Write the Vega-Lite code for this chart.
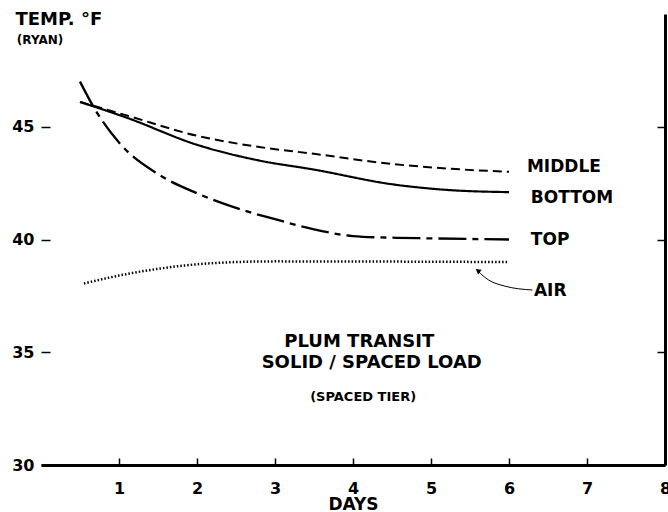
{
  "$schema": "https://vega.github.io/schema/vega-lite/v6.json",
  "width": 624,
  "height": 451,
  "autosize": "none",
  "padding": {"left": 41, "top": 14, "right": 3, "bottom": 47},
  "background": "white",
  "config": {
    "view": {"stroke": null},
    "font": "DejaVu Sans",
    "axis": {"grid": false, "domainColor": "black", "tickColor": "black", "labelColor": "black", "titleColor": "black", "labelFont": "DejaVu Sans", "titleFont": "DejaVu Sans", "labelFontWeight": "bold", "titleFontWeight": "bold"}
  },
  "datasets": {
    "series": [
      {"series": "MIDDLE", "day": 0.5, "temp": 46.1},
      {"series": "MIDDLE", "day": 1.1, "temp": 45.5},
      {"series": "MIDDLE", "day": 2.0, "temp": 44.6},
      {"series": "MIDDLE", "day": 2.8, "temp": 44.1},
      {"series": "MIDDLE", "day": 3.5, "temp": 43.8},
      {"series": "MIDDLE", "day": 4.5, "temp": 43.35},
      {"series": "MIDDLE", "day": 5.2, "temp": 43.15},
      {"series": "MIDDLE", "day": 6.0, "temp": 43.0},
      {"series": "BOTTOM", "day": 0.5, "temp": 46.1},
      {"series": "BOTTOM", "day": 1.1, "temp": 45.4},
      {"series": "BOTTOM", "day": 2.0, "temp": 44.2},
      {"series": "BOTTOM", "day": 2.8, "temp": 43.5},
      {"series": "BOTTOM", "day": 3.5, "temp": 43.1},
      {"series": "BOTTOM", "day": 4.5, "temp": 42.45},
      {"series": "BOTTOM", "day": 5.2, "temp": 42.2},
      {"series": "BOTTOM", "day": 6.0, "temp": 42.1},
      {"series": "TOP", "day": 0.5, "temp": 47.0},
      {"series": "TOP", "day": 0.67, "temp": 45.9},
      {"series": "TOP", "day": 1.0, "temp": 44.3},
      {"series": "TOP", "day": 1.5, "temp": 42.9},
      {"series": "TOP", "day": 2.0, "temp": 42.05},
      {"series": "TOP", "day": 2.5, "temp": 41.4},
      {"series": "TOP", "day": 3.0, "temp": 40.9},
      {"series": "TOP", "day": 3.5, "temp": 40.45},
      {"series": "TOP", "day": 4.0, "temp": 40.15},
      {"series": "TOP", "day": 4.5, "temp": 40.08},
      {"series": "TOP", "day": 5.0, "temp": 40.05},
      {"series": "TOP", "day": 6.0, "temp": 40.0},
      {"series": "AIR", "day": 0.55, "temp": 38.05},
      {"series": "AIR", "day": 1.0, "temp": 38.4},
      {"series": "AIR", "day": 1.5, "temp": 38.7},
      {"series": "AIR", "day": 2.0, "temp": 38.9},
      {"series": "AIR", "day": 2.5, "temp": 39.0},
      {"series": "AIR", "day": 3.0, "temp": 39.03},
      {"series": "AIR", "day": 6.0, "temp": 39.0}
    ],
    "seriesLabels": [
      {"label": "MIDDLE", "day": 6.23, "temp": 43.21},
      {"label": "BOTTOM", "day": 6.28, "temp": 41.84},
      {"label": "TOP", "day": 6.28, "temp": 40.0},
      {"label": "AIR", "day": 6.32, "temp": 37.71}
    ],
    "leader": [
      {"day": 6.3, "temp": 37.76},
      {"day": 5.95, "temp": 37.93},
      {"day": 5.74, "temp": 38.2},
      {"day": 5.6, "temp": 38.6}
    ],
    "arrow": [{"day": 5.6, "temp": 38.62}],
    "bigNotes": [
      {"label": "PLUM TRANSIT", "day": 4.08, "temp": 35.47},
      {"label": "SOLID / SPACED LOAD", "day": 4.24, "temp": 34.53}
    ],
    "smallNotes": [
      {"label": "(SPACED TIER)", "day": 4.13, "temp": 33.02}
    ],
    "unit": [
      {"label": "(RYAN)", "day": -0.31, "temp": 48.83}
    ]
  },
  "layer": [
    {
      "data": {"name": "series"},
      "mark": {"type": "line", "interpolate": "monotone", "color": "black", "clip": false},
      "encoding": {
        "x": {"field": "day", "type": "quantitative", "scale": {"domain": [0, 8], "nice": false, "zero": false},
          "axis": {"values": [1, 2, 3, 4, 5, 6, 7, 8], "format": "d", "title": "DAYS", "titleFontSize": 17, "titlePadding": 0, "labelFontSize": 16, "labelPadding": 22, "tickSize": -7, "tickWidth": 1.5, "domainWidth": 3, "labelFlush": false}},
        "y": {"field": "temp", "type": "quantitative", "scale": {"domain": [30, 50], "nice": false, "zero": false},
          "axis": {"values": [30, 35, 40, 45], "format": "d", "domain": false, "title": "TEMP. °F", "titleAngle": 0, "titleAlign": "left", "titleBaseline": "middle", "titleX": -26, "titleY": 5, "titleFontSize": 18, "labelFontSize": 16, "labelPadding": 16, "tickSize": -9, "tickWidth": 1.5}},
        "detail": {"field": "series"},
        "strokeDash": {"field": "series", "type": "nominal", "legend": null,
          "scale": {"domain": ["MIDDLE", "BOTTOM", "TOP", "AIR"], "range": [[9, 5], [1, 0], [28, 6, 6, 6], [1.5, 2]]}},
        "strokeWidth": {"field": "series", "type": "nominal", "legend": null,
          "scale": {"domain": ["MIDDLE", "BOTTOM", "TOP", "AIR"], "range": [2, 2.5, 2, 1.5]}}
      }
    },
    {
      "mark": {"type": "rule", "color": "black", "strokeWidth": 3, "clip": false},
      "encoding": {
        "x": {"datum": 0, "type": "quantitative"},
        "y": {"datum": 30, "type": "quantitative", "axis": null},
        "y2": {"datum": 48.28}
      }
    },
    {
      "mark": {"type": "rule", "color": "black", "strokeWidth": 3, "clip": false},
      "encoding": {
        "x": {"datum": 1.12, "type": "quantitative"},
        "x2": {"datum": 8},
        "y": {"datum": 50, "type": "quantitative",
          "axis": {"orient": "right", "values": [35, 40, 45], "labels": false, "title": null, "tickSize": -8, "tickWidth": 1.5, "domainWidth": 3}}
      }
    },
    {
      "data": {"name": "leader"},
      "mark": {"type": "line", "interpolate": "monotone", "color": "black", "strokeWidth": 1},
      "encoding": {
        "x": {"field": "day", "type": "quantitative"},
        "y": {"field": "temp", "type": "quantitative", "axis": null},
        "order": {"field": "day"}
      }
    },
    {
      "data": {"name": "arrow"},
      "mark": {"type": "point", "shape": "triangle-up", "filled": true, "color": "black", "size": 35, "angle": 307, "opacity": 1},
      "encoding": {
        "x": {"field": "day", "type": "quantitative"},
        "y": {"field": "temp", "type": "quantitative", "axis": null}
      }
    },
    {
      "data": {"name": "seriesLabels"},
      "mark": {"type": "text", "align": "left", "baseline": "middle", "fontSize": 17, "fontWeight": "bold", "font": "DejaVu Sans", "color": "black"},
      "encoding": {
        "x": {"field": "day", "type": "quantitative"},
        "y": {"field": "temp", "type": "quantitative", "axis": null},
        "text": {"field": "label"}
      }
    },
    {
      "data": {"name": "bigNotes"},
      "mark": {"type": "text", "align": "center", "baseline": "middle", "fontSize": 18, "fontWeight": "bold", "font": "DejaVu Sans", "color": "black"},
      "encoding": {
        "x": {"field": "day", "type": "quantitative"},
        "y": {"field": "temp", "type": "quantitative", "axis": null},
        "text": {"field": "label"}
      }
    },
    {
      "data": {"name": "smallNotes"},
      "mark": {"type": "text", "align": "center", "baseline": "middle", "fontSize": 13, "fontWeight": "bold", "font": "DejaVu Sans", "color": "black"},
      "encoding": {
        "x": {"field": "day", "type": "quantitative"},
        "y": {"field": "temp", "type": "quantitative", "axis": null},
        "text": {"field": "label"}
      }
    },
    {
      "data": {"name": "unit"},
      "mark": {"type": "text", "align": "left", "baseline": "middle", "fontSize": 12, "fontWeight": "bold", "font": "DejaVu Sans", "color": "black", "clip": false},
      "encoding": {
        "x": {"field": "day", "type": "quantitative"},
        "y": {"field": "temp", "type": "quantitative", "axis": null},
        "text": {"field": "label"}
      }
    }
  ],
  "resolve": {"axis": {"y": "independent"}}
}
